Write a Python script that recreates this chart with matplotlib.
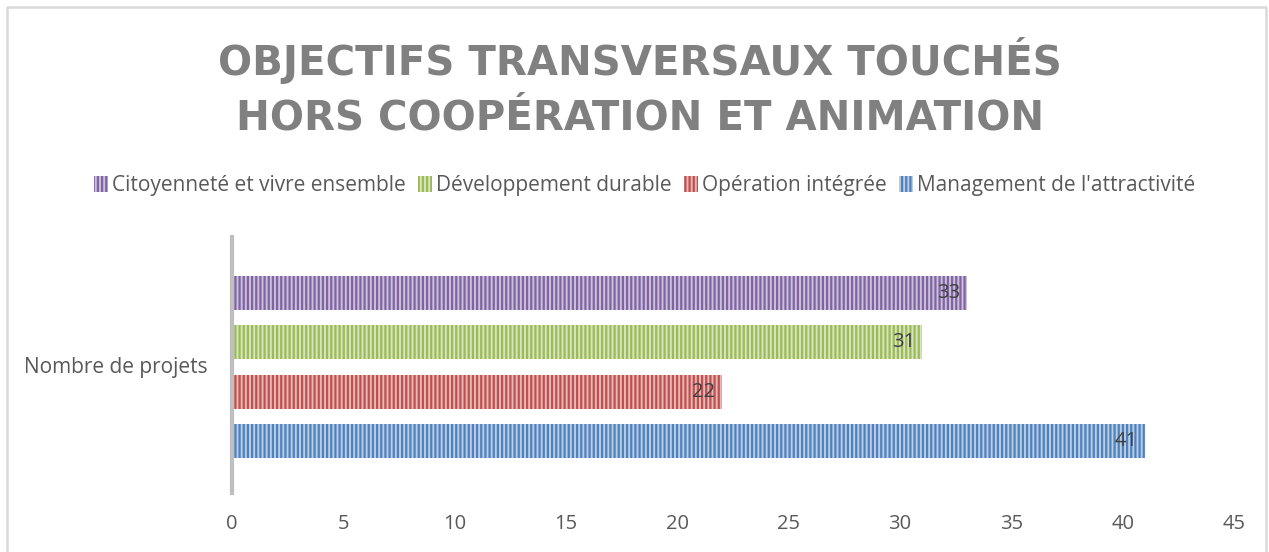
import numpy as np
import matplotlib.pyplot as plt
from matplotlib.lines import Line2D

# data (bottom to top)
series = ["Management de l'attractivité", "Opération intégrée",
          "Développement durable", "Citoyenneté et vivre ensemble"]
values = [41, 22, 31, 33]
colors = ['#4F81BD', '#C0504D', '#9BBB59', '#8064A2']
lights = ['#B9CDE5', '#E6B9B8', '#D7E4BD', '#CCC1DA']
category = 'Nombre de projets'
xticks = [0, 5, 10, 15, 20, 25, 30, 35, 40, 45]

plt.rcParams['font.family'] = ['Open Sans', 'DejaVu Sans']
plt.rcParams['hatch.linewidth'] = 1.6

W, H = 1269, 552
fig = plt.figure(figsize=(W/100, H/100), dpi=100)
ax = fig.add_axes([232/W, 1 - 493/H, (1234-232)/W, (493-237)/H])

ypos = np.arange(len(values))
bars = []
for i in range(len(values)):
    plt.rcParams['hatch.color'] = colors[i]
    b = ax.barh(ypos[i], values[i], height=0.69, color=lights[i],
                hatch='||||', edgecolor=colors[i], linewidth=0)
    bars.append(b)
    ax.annotate(str(values[i]), (values[i], ypos[i]), xytext=(-5, 0),
                textcoords='offset points', ha='right', va='center',
                fontsize=14.5, color='#404040')

ax.set_xlim(0, 45)
ax.set_ylim(-1.05, 4.13)
ax.set_xticks(xticks)
ax.tick_params(axis='x', length=0, labelsize=14.5, labelcolor='#595959', pad=15)
ax.set_yticks([])
for s in ['top', 'right', 'bottom']:
    ax.spines[s].set_visible(False)
ax.spines['left'].set_color('#BFBFBF')
ax.spines['left'].set_linewidth(3)

fig.text(208/W, 1 - 367/H, category, ha='right', va='center',
         fontsize=15, color='#595959')

fig.text(0.504, 1 - 60/H, 'OBJECTIFS TRANSVERSAUX TOUCHÉS', ha='center',
         va='center', fontsize=29, fontweight='bold', color='#808080',
         family='DejaVu Sans')
fig.text(0.504, 1 - 118/H, 'HORS COOPÉRATION ET ANIMATION', ha='center',
         va='center', fontsize=29, fontweight='bold', color='#808080',
         family='DejaVu Sans')

# legend: top series first, like the reference
handles = [bars[i] for i in [3, 2, 1, 0]]
labels = [series[i] for i in [3, 2, 1, 0]]
fig.legend(handles, labels, loc='center', bbox_to_anchor=(0.508, 1 - 186/H),
           ncol=4, frameon=False, fontsize=15, labelcolor='#595959',
           handlelength=0.65, handleheight=0.8, handletextpad=0.2,
           columnspacing=0.6)

# chart frame
fx = [7/W, 7/W, 1266/W, 1266/W]
fy = [0, 1 - 7/H, 1 - 7/H, 0]
fig.add_artist(Line2D(fx, fy, transform=fig.transFigure, color='#D9D9D9',
                      linewidth=1.8))

fig.savefig('out.png', dpi=100)
